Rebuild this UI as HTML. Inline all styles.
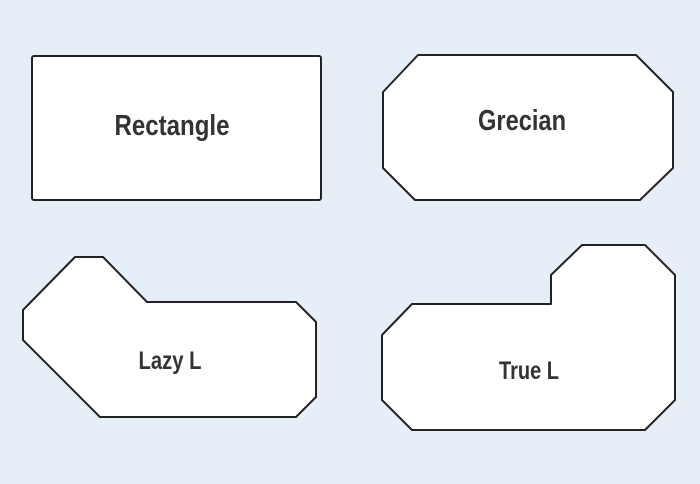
<!DOCTYPE html>
<html><head><meta charset="utf-8"><style>
html,body{margin:0;padding:0;background:#e6eef8;width:700px;height:484px;overflow:hidden}
svg{display:block}
text{font-family:"Liberation Sans",sans-serif;font-weight:bold;fill:#333;text-anchor:middle}
</style></head><body>
<svg width="700" height="484" viewBox="0 0 700 484">
<g fill="#fff" stroke="#222" stroke-width="2" stroke-linejoin="round">
<rect x="32" y="56" width="289" height="144" rx="2"/>
<polygon points="418,55 636,55 673,92 673,168 640,200 415,200 383,168 383,92"/>
<polygon points="75,257 103,257 147,302 296,302 316,322 316,397 296,417 100,417 23,340 23,310"/>
<polygon points="582,245 645,245 675,275 675,400 645,430 412,430 382,400 382,335 412,304 551,304 551,275"/>
</g>
<text x="172" y="135" font-size="29" textLength="115" lengthAdjust="spacingAndGlyphs">Rectangle</text>
<text x="522" y="130" font-size="29" textLength="88" lengthAdjust="spacingAndGlyphs">Grecian</text>
<text x="170" y="369" font-size="25" textLength="63" lengthAdjust="spacingAndGlyphs">Lazy L</text>
<text x="529" y="379" font-size="25" textLength="60" lengthAdjust="spacingAndGlyphs">True L</text>
</svg>
</body></html>
